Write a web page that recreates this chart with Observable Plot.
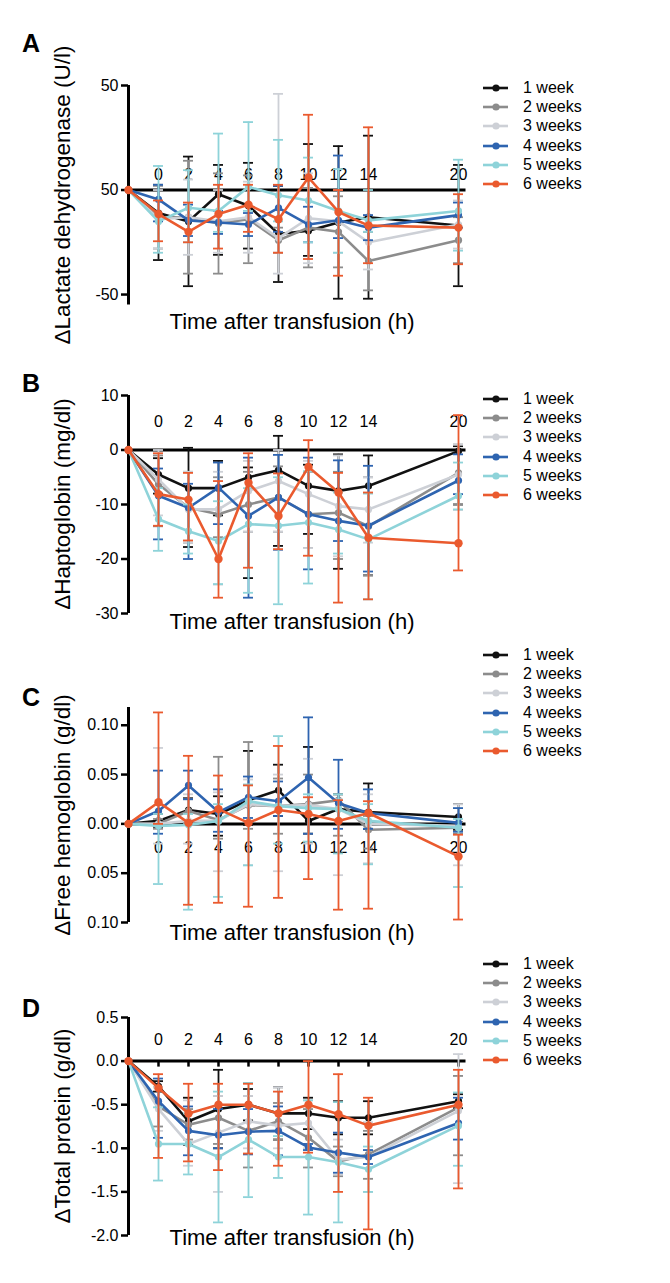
<!DOCTYPE html>
<html><head><meta charset="utf-8">
<script src="https://cdn.jsdelivr.net/npm/d3@7"></script>
<script src="https://cdn.jsdelivr.net/npm/@observablehq/plot@0.6"></script>
<style>
body{margin:0;background:#fff;}
#root{position:relative;width:670px;height:1283px;overflow:hidden;background:#fff;font-family:Arial,"Liberation Sans",Helvetica,sans-serif;color:#000;}
.abs{position:absolute;}
.letter{font-weight:bold;font-size:25px;transform:translate(-50%,-50%);}
.xlab{font-size:22px;white-space:nowrap;transform:translate(-50%,-50%);}
.ylab{font-size:22.5px;white-space:nowrap;transform:translate(-50%,-50%) rotate(-90deg);}
.leg{position:absolute;height:20px;display:flex;align-items:center;font-size:16px;white-space:nowrap;}
svg{overflow:visible;}
</style></head>
<body><div id="root"></div>
<script>
const series = ["1 week","2 weeks","3 weeks","4 weeks","5 weeks","6 weeks"];
const colors = ["#111111","#8c8c8c","#cdd0d6","#2e64b0","#8ed3d9","#ea5a2e"];
const times = [0,2,4,6,8,10,12,14,20];
const baseTime = -2;
const xTicks = [0,2,4,6,8,10,12,14,20];
const xDomain = [-2, 20.5];

// Panel A: ΔLactate dehydrogenase (U/l)
const ldhTicks = [-50, 0, 50];
const ldhTickLabels = ["-50", "50", "50"];
const ldhMean = [
  [-11, -15, -2, -7.5, -21, -19.5, -15.5, -13, -17],
  [-13, -13, -16, -14, -24, -18, -20, -34, -24],
  [-14, -13, -15, -13, -23, -13.5, -15, -25, -16.5],
  [-4.5, -14.5, -15.5, -16.5, -8.5, -16.5, -14.5, -18, -12],
  [-15, -8.5, -10, 1.5, -2.5, -5, -10, -14.5, -10],
  [-11.5, -20, -11.5, -7, -14, 6, -10.5, -17, -18]
];
const ldhLo = [
  [-33.5, -46, -31, -28, -44, -31.5, -52, -52, -46],
  [-28, -40, -40, -35, -30, -37, -37, -48, -35],
  [-28, -31, -30, -30, -40, -35, -30, -38, -28],
  [-15, -22, -21, -22, -20, -25, -23, -24, -18],
  [-30, -25, -20, -10, -15, -25, -30, -20, -29],
  [-24.5, -25, -28, -20, -30, -33, -41, -35, -35.5]
];
const ldhHi = [
  [2.5, 16, 12, 13, 2, 22, 21, 26, 12],
  [2, 14, 8, 7, -18, 1, -3, -20, -13],
  [0, 5, 0, 4, 46, 8, 0, -12, -5],
  [2.5, -7, -10, -11, 2, -8, 16.5, -12, -6],
  [11.5, 9.5, 27, 32.5, 24, 15.5, 10, 0, 14.5],
  [-5, -6, 2.5, 2.5, 2.5, 36, 0, 30, -2]
];

// Panel B: ΔHaptoglobin (mg/dl)
const hpTicks = [-30, -20, -10, 0, 10];
const hpTickLabels = ["-30", "-20", "-10", "0", "10"];
const hpMean = [
  [-4.5, -7, -7, -5, -3.7, -6.6, -7.5, -6.6, -0.2],
  [-6.3, -10.6, -11.8, -10, -8.7, -11.8, -11.5, -14, -4.2],
  [-5.4, -10.9, -10.9, -7.5, -5.7, -8.1, -10.3, -10.9, -4.5],
  [-8.4, -10.6, -6.9, -12.1, -8.7, -11.8, -13, -13.9, -5.6],
  [-12.7, -14.9, -16.7, -13.6, -13.9, -13.3, -14.6, -16.4, -8.4],
  [-8.1, -9.1, -20, -6, -12.1, -3.1, -7.8, -16.1, -17.1]
];
const hpLo = [
  [-8, -17.8, -12, -23.5, -17.6, -15.4, -21.8, -23, -10],
  [-14, -17, -16, -15, -15, -18, -20, -23, -10],
  [-12, -17, -24.7, -15, -15, -18, -19.5, -17, -11],
  [-16.4, -20, -13.6, -27.1, -18.3, -21.9, -16.7, -22.3, -8.1],
  [-18.5, -19, -24.6, -26.2, -28.3, -24.5, -19, -27.4, -10.9],
  [-13.9, -16.6, -27.1, -21.6, -18.2, -19.4, -28, -27.4, -22.1]
];
const hpHi = [
  [-1.5, 0.4, -2, -3.2, 2.6, -2.7, -0.8, -1, 0.7],
  [-1, -4, -5, -4, -3, -4, -4, -5, 1],
  [0, -4, -4, -2, 0, -2, -1, -5, 1],
  [-3.4, -6.2, -2.3, -1.4, -0.9, -1.4, -1.9, -2.9, -0.8],
  [-7, -10, -9.4, -7, -5, -3.9, -7.8, -8, -2.3],
  [-0.6, -4.2, -5.7, -0.6, -4.3, 1.8, -4.2, -7.8, 6.4]
];

// Panel C: ΔFree hemoglobin (g/dl)
const fhTicks = [-0.10, -0.05, 0, 0.05, 0.10];
const fhTickLabels = ["0.10", "0.05", "0.00", "0.05", "0.10"];
const fhMean = [
  [0.003, 0.014, 0.010, 0.024, 0.034, 0.003, 0.015, 0.012, 0.007],
  [0.0, 0.013, 0.004, 0.019, 0.018, 0.020, 0.024, -0.006, -0.004],
  [0.0, 0.003, 0.003, 0.020, 0.018, 0.019, 0.015, 0.0, -0.002],
  [0.013, 0.039, 0.012, 0.027, 0.023, 0.047, 0.021, 0.011, 0.001],
  [-0.002, -0.001, 0.003, 0.023, 0.018, 0.016, 0.015, 0.003, -0.004],
  [0.022, 0.001, 0.015, 0.001, 0.014, 0.010, 0.003, 0.011, -0.033]
];
const fhLo = [
  [-0.003, 0.002, -0.012, -0.001, 0.008, -0.01, 0.0, -0.005, -0.006],
  [-0.005, 0.0, -0.015, -0.005, -0.01, -0.01, -0.012, -0.025, -0.01],
  [-0.02, -0.02, -0.048, -0.042, -0.048, -0.02, -0.052, -0.04, -0.042],
  [-0.01, 0.025, -0.008, 0.006, 0.008, -0.01, -0.005, -0.005, -0.008],
  [-0.061, -0.087, -0.074, -0.042, -0.02, -0.018, -0.030, -0.041, -0.064],
  [0.0, -0.082, -0.080, -0.084, -0.075, -0.056, -0.087, -0.086, -0.097]
];
const fhHi = [
  [0.01, 0.026, 0.028, 0.074, 0.060, 0.078, 0.030, 0.041, 0.020],
  [0.005, 0.025, 0.068, 0.083, 0.046, 0.050, 0.03, 0.008, 0.002],
  [0.077, 0.03, 0.032, 0.045, 0.05, 0.066, 0.025, 0.03, 0.02],
  [0.054, 0.054, 0.035, 0.048, 0.043, 0.108, 0.065, 0.035, 0.016],
  [0.01, 0.01, 0.02, 0.04, 0.089, 0.03, 0.03, 0.02, 0.005],
  [0.113, 0.069, 0.049, 0.039, 0.079, 0.027, 0.024, 0.023, -0.011]
];

// Panel D: ΔTotal protein (g/dl)
const tpTicks = [-2.0, -1.5, -1.0, -0.5, 0.0, 0.5];
const tpTickLabels = ["-2.0", "-1.5", "-1.0", "-0.5", "0.0", "0.5"];
const tpMean = [
  [-0.29, -0.69, -0.55, -0.5, -0.6, -0.6, -0.65, -0.65, -0.46],
  [-0.52, -0.73, -0.65, -0.80, -0.69, -0.88, -1.15, -1.07, -0.53],
  [-0.55, -0.95, -0.82, -0.69, -0.74, -0.71, -1.13, -1.10, -0.57],
  [-0.46, -0.80, -0.85, -0.81, -0.80, -0.99, -1.05, -1.10, -0.71],
  [-0.95, -0.95, -1.10, -0.90, -1.10, -1.10, -1.16, -1.24, -0.74],
  [-0.31, -0.6, -0.5, -0.5, -0.6, -0.5, -0.61, -0.74, -0.5]
];
const tpLo = [
  [-0.35, -0.96, -1.0, -0.68, -0.9, -0.78, -0.84, -0.84, -0.54],
  [-0.75, -0.9, -0.95, -1.22, -0.9, -1.22, -1.32, -1.35, -1.08],
  [-0.8, -1.2, -1.5, -1.0, -1.0, -1.0, -1.3, -1.5, -1.4],
  [-0.88, -1.08, -1.0, -1.07, -1.08, -1.02, -1.28, -1.18, -0.9],
  [-1.37, -1.30, -1.85, -1.56, -1.34, -1.76, -1.85, -1.5, -1.2],
  [-1.11, -1.15, -1.25, -1.06, -1.2, -1.05, -1.5, -1.93, -1.46]
];
const tpHi = [
  [-0.23, -0.42, -0.10, -0.32, -0.3, -0.42, -0.46, -0.46, -0.38],
  [-0.3, -0.55, -0.4, -0.4, -0.48, -0.55, -0.98, -0.8, -0.17],
  [-0.3, -0.45, -0.4, -0.4, -0.3, -0.45, -0.9, -0.7, 0.08],
  [-0.2, -0.52, -0.55, -0.55, -0.52, -0.95, -0.82, -1.02, -0.42],
  [-0.53, -0.6, -0.35, -0.25, -0.86, -0.45, -0.47, -0.98, -0.36],
  [-0.15, -0.26, -0.26, -0.26, -0.35, 0.0, -0.15, -0.42, -0.1]
];

const xLabel = "Time after transfusion (h)";

const panels = [
  {letter:"A", ylabel:"ΔLactate dehydrogenase (U/l)", mean:ldhMean, lo:ldhLo, hi:ldhHi,
   ticks:ldhTicks, tickLabels:ldhTickLabels, domain:[-55,50], top:85, bottom:304.5,
   xdy:-15, xTickMarks:false, letterY:43, xlabY:322, legendY:88},
  {letter:"B", ylabel:"ΔHaptoglobin (mg/dl)", mean:hpMean, lo:hpLo, hi:hpHi,
   ticks:hpTicks, tickLabels:hpTickLabels, domain:[-30,10], top:395, bottom:613,
   xdy:-28, xTickMarks:false, letterY:383, xlabY:622, legendY:399},
  {letter:"C", ylabel:"ΔFree hemoglobin (g/dl)", mean:fhMean, lo:fhLo, hi:fhHi,
   ticks:fhTicks, tickLabels:fhTickLabels, domain:[-0.10,0.118], top:707, bottom:922,
   xdy:24, xTickMarks:false, letterY:697, xlabY:933, legendY:655},
  {letter:"D", ylabel:"ΔTotal protein (g/dl)", mean:tpMean, lo:tpLo, hi:tpHi,
   ticks:tpTicks, tickLabels:tpTickLabels, domain:[-2.0,0.5], top:1017, bottom:1235,
   xdy:-21, xTickMarks:true, letterY:1008, xlabY:1238, legendY:964}
];

const root = document.getElementById("root");
const W = 670, frameLeft = 128, frameRight = 465.5, pad = 20;

function addDiv(cls, text, x, y){
  const d = document.createElement("div");
  d.className = "abs " + cls;
  d.textContent = text;
  d.style.left = x + "px"; d.style.top = y + "px";
  root.appendChild(d);
  return d;
}

for (const p of panels) {
  const marks = [];
  // x tick labels (drawn beneath data)
  marks.push(Plot.text(xTicks, {x: d => d, y: () => 0, text: d => String(d), dy: p.xdy, fontSize: 16, fill: "#000"}));
  marks.push(Plot.ruleY([0], {stroke: "#000", strokeWidth: 3}));
  if (p.xTickMarks) marks.push(Plot.ruleX(xTicks, {x: d => d, y1: () => 0, y2: () => 0, insetBottom: -6, stroke: "#000", strokeWidth: 2.5}));
  marks.push(Plot.ruleX([xDomain[0]], {stroke: "#000", strokeWidth: 3}));
  marks.push(Plot.axisY({ticks: p.ticks, tickFormat: d => p.tickLabels[p.ticks.indexOf(d)], tickSize: 7, tickPadding: 3, fontSize: 16, strokeWidth: 2.5, label: null}));
  series.forEach((s, si) => {
    const c = colors[si];
    const err = times.map((t, ti) => ({t, lo: p.lo[si][ti], hi: p.hi[si][ti]}));
    const pts = [{t: baseTime, m: 0}, ...times.map((t, ti) => ({t, m: p.mean[si][ti]}))];
    marks.push(Plot.ruleX(err, {x: "t", y1: "lo", y2: "hi", stroke: c, strokeWidth: 1.8}));
    marks.push(Plot.ruleY(err, {y: "hi", x1: "t", x2: "t", insetLeft: -5, insetRight: -5, stroke: c, strokeWidth: 1.8}));
    marks.push(Plot.ruleY(err, {y: "lo", x1: "t", x2: "t", insetLeft: -5, insetRight: -5, stroke: c, strokeWidth: 1.8}));
    marks.push(Plot.line(pts, {x: "t", y: "m", stroke: c, strokeWidth: 2.6}));
    marks.push(Plot.dot(pts, {x: "t", y: "m", fill: c, r: si === 5 ? 4.2 : 3.6}));
  });
  const chart = Plot.plot({
    width: W, height: (p.bottom - p.top) + 2 * pad,
    marginLeft: frameLeft, marginRight: W - frameRight, marginTop: pad, marginBottom: pad,
    x: {domain: xDomain, axis: null},
    y: {domain: p.domain, axis: null},
    style: {fontFamily: "Arial, 'Liberation Sans', Helvetica, sans-serif", overflow: "visible", background: "transparent"},
    marks
  });
  chart.style.position = "absolute";
  chart.style.left = "0px";
  chart.style.top = (p.top - pad) + "px";
  root.appendChild(chart);

  addDiv("letter", p.letter, 31, p.letterY);
  addDiv("ylab", p.ylabel, 63, (p.top + p.bottom) / 2);
  addDiv("xlab", xLabel, 292, p.xlabY);

  series.forEach((s, si) => {
    const row = document.createElement("div");
    row.className = "leg";
    row.style.left = "482px";
    row.style.top = (p.legendY + si * 19.2 - 10) + "px";
    const ns = "http://www.w3.org/2000/svg";
    const sw = document.createElementNS(ns, "svg");
    sw.setAttribute("width", 27); sw.setAttribute("height", 10);
    const ln = document.createElementNS(ns, "line");
    ln.setAttribute("x1", 1); ln.setAttribute("x2", 26); ln.setAttribute("y1", 5); ln.setAttribute("y2", 5);
    ln.setAttribute("stroke", colors[si]); ln.setAttribute("stroke-width", 2.6);
    const ci = document.createElementNS(ns, "circle");
    ci.setAttribute("cx", 14); ci.setAttribute("cy", 5); ci.setAttribute("r", 3.6); ci.setAttribute("fill", colors[si]);
    sw.appendChild(ln); sw.appendChild(ci);
    const tx = document.createElement("span");
    tx.textContent = s;
    tx.style.marginLeft = "14px";
    row.appendChild(sw); row.appendChild(tx);
    root.appendChild(row);
  });
}
</script>
</body></html>
